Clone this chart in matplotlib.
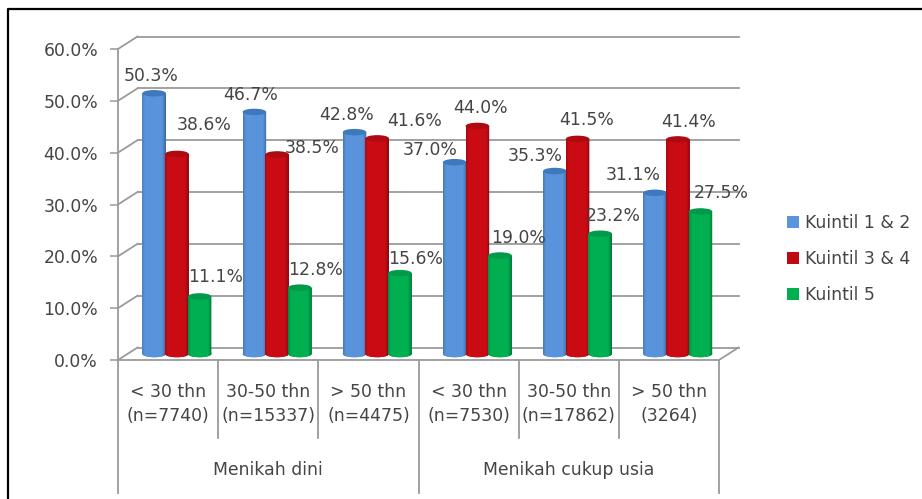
import numpy as np
import matplotlib
matplotlib.use("Agg")
import matplotlib.pyplot as plt
from matplotlib.lines import Line2D
from matplotlib.patches import Ellipse, PathPatch, Rectangle
from matplotlib.path import Path
from matplotlib.transforms import Affine2D, ScaledTranslation
from matplotlib.colors import LinearSegmentedColormap

# Survey shares by marriage age group and welfare quintile
age_labels = ["< 30 thn\n(n=7740)", "30-50 thn\n(n=15337)", "> 50 thn\n(n=4475)",
              "< 30 thn\n(n=7530)", "30-50 thn\n(n=17862)", "> 50 thn\n(3264)"]
group_labels = ["Menikah dini", "Menikah cukup usia"]
series_names = ["Kuintil 1 & 2", "Kuintil 3 & 4", "Kuintil 5"]
kuintil_12 = [50.3, 46.7, 42.8, 37.0, 35.3, 31.1]
kuintil_34 = [38.6, 38.5, 41.6, 44.0, 41.5, 41.4]
kuintil_5 = [11.1, 12.8, 15.6, 19.0, 23.2, 27.5]
y_ticks = [0, 10, 20, 30, 40, 50, 60]

W, H = 922, 499
LEFT, RIGHT, Y0, Y60 = 118.0, 719.0, 360.0, 49.0
BACK_DX, BACK_DY = 19.5, 12.5
MID_DX, MID_DY = 8.8, 6.0
BAR_PITCH_PX = 22.7
BAR_PX = 23.6
ELL_PX = 6.5
TEXT = "#454545"
GRID = "#9A9A9A"
FS = 12.4

# Label offsets from the top of each cylinder, in pixels (dx, dy upward)
offsets_12 = [(-3.5, 17), (-3.5, 17), (-7.5, 17), (-24.5, 12), (-19.5, 15), (-21.5, 18)]
offsets_34 = [(27, 29), (35, 6.6), (37, 17.5), (3, 18), (9, 19), (11, 17.5)]
offsets_5 = [(16.5, 19.5), (16, 17.7), (16, 14), (18, 17.6), (13, 18), (20.5, 18.5)]

# (edge, highlight, far edge, cap colour)
shades = [("#4C7CB8", "#5A94DC", "#3F6CA6", "#4078BE"),
          ("#A80A12", "#CC0C14", "#8A0A10", "#AE0A12"),
          ("#009044", "#00B050", "#007C3A", "#009A4A")]

fig = plt.figure(figsize=(W / 100, H / 100), dpi=100, facecolor="white")
ax = fig.add_axes([LEFT / W, 1 - Y0 / H, (RIGHT - LEFT) / W, (Y0 - Y60) / H])
ax.set_xlim(0, 6)
ax.set_ylim(0, 60)
ax.patch.set_alpha(0)

px = Affine2D().scale(1 / W, -1 / H).translate(0, 1) + fig.transFigure
back = ax.transData + ScaledTranslation(BACK_DX / 100, BACK_DY / 100, fig.dpi_scale_trans)
mid = ax.transData + ScaledTranslation(MID_DX / 100, MID_DY / 100, fig.dpi_scale_trans)

unit_x = 6 / (RIGHT - LEFT)
unit_y = 60 / (Y0 - Y60)
bar_w = BAR_PX * unit_x
bar_pitch = BAR_PITCH_PX * unit_x
ell_h = ELL_PX * unit_y

# Back wall gridlines and the short receding segments at the axis
for t in y_ticks:
    ax.plot([0, 6], [t, t], color=GRID, lw=1.3, transform=back, clip_on=False, zorder=1)
    fig.add_artist(Line2D([LEFT, LEFT + BACK_DX],
                          [Y0 - t / unit_y, Y0 - t / unit_y - BACK_DY],
                          color=GRID, lw=1.3, transform=px, zorder=1))
fig.add_artist(Line2D([RIGHT, RIGHT + BACK_DX], [Y0, Y0 - BACK_DY], color=GRID, lw=1.3, transform=px))

ax.set_yticks(y_ticks)
ax.set_yticklabels([f"{t:.1f}%" for t in y_ticks], fontsize=FS, color=TEXT)
ax.tick_params(axis="y", length=5.8, width=1.1, color=GRID, pad=8.6)
ax.set_xticks([])
for name, sp in ax.spines.items():
    sp.set_visible(name in ("left", "bottom"))
    sp.set_color(GRID)
    sp.set_linewidth(1.3)

# Multi-level category axis below the floor
for i in range(7):
    bottom = 493 if i % 3 == 0 else 438
    x = LEFT + i * (RIGHT - LEFT) / 6
    fig.add_artist(Line2D([x, x], [Y0, bottom], color=GRID, lw=1.3, transform=px))
for i, lab in enumerate(age_labels):
    first, second = lab.split("\n")
    x = LEFT + (i + 0.5) * (RIGHT - LEFT) / 6
    fig.text(x, 392, first, transform=px, ha="center", va="center", fontsize=FS, color=TEXT)
    fig.text(x, 416, second, transform=px, ha="center", va="center", fontsize=FS, color=TEXT)
for i, lab in enumerate(group_labels):
    x = LEFT + (i + 0.5) * (RIGHT - LEFT) / 2
    fig.text(x, 470, lab, transform=px, ha="center", va="center", fontsize=FS, color=TEXT)

# Cylinders: a bar, a shaded body clipped to a round base, and a flat cap
series = [kuintil_12, kuintil_34, kuintil_5]
offsets = [offsets_12, offsets_34, offsets_5]
positions = np.arange(6) + 0.5
ramp = np.array([0.0, 0.3] + [0.5] * 14 + [0.6, 0.8, 1.0])[None, :]
for s, values in enumerate(series):
    edge, high, far, cap = shades[s]
    cmap = LinearSegmentedColormap.from_list("cyl", [edge, high, far], N=64)
    xs = positions + (s - 1) * bar_pitch
    bars = ax.bar(xs, values, bar_w, color=high, transform=mid, zorder=3 + s, clip_on=False)
    for bar, v, x in zip(bars, values, xs):
        x0, x1 = x - bar_w / 2, x + bar_w / 2
        outline = Path.make_compound_path(
            Path([(x0, 0), (x1, 0), (x1, v), (x0, v), (x0, 0)],
                 [Path.MOVETO, Path.LINETO, Path.LINETO, Path.LINETO, Path.CLOSEPOLY]),
            Path.unit_circle().transformed(
                Affine2D().scale(bar_w / 2, ell_h / 2).translate(x, 0)),
        )
        clip = PathPatch(outline, transform=mid, fc="none", ec="none")
        body = ax.imshow(ramp, cmap=cmap, vmin=0, vmax=1, aspect="auto", interpolation="bilinear",
                         extent=(x0, x1, -ell_h, v), transform=mid, zorder=3 + s)
        body.set_clip_path(clip)
        ax.add_patch(Ellipse((x, 0), bar_w, ell_h, fc=high, ec="none", transform=mid,
                             zorder=2.9 + s, clip_on=False))
        ax.add_patch(Ellipse((x, v), bar_w, ell_h, fc=cap, ec="none", transform=mid,
                             zorder=3.1 + s, clip_on=False))

ax.set_xlim(0, 6)
ax.set_ylim(0, 60)

# Value labels
for s, values in enumerate(series):
    for i, v in enumerate(values):
        dx, dy = offsets[s][i]
        ax.annotate(f"{v:.1f}%", (positions[i] + (s - 1) * bar_pitch, v), xycoords=mid,
                    xytext=(dx * 0.72, dy * 0.72), textcoords="offset points",
                    ha="center", va="center", fontsize=FS, color=TEXT,
                    annotation_clip=False, zorder=10)

# Legend
handles = [Rectangle((0, 0), 1, 1, fc=c) for c in ("#5A94DC", "#C00A12", "#00B050")]
fig.legend(handles, series_names, loc="upper left", bbox_to_anchor=(782 / W, 1 - 208.5 / H),
           frameon=False, fontsize=FS, labelcolor=TEXT, handlelength=0.7, handleheight=0.7,
           handletextpad=0.35, labelspacing=1.05, borderpad=0.3, borderaxespad=0)

# Outer frame of the slide object, running off the right and lower edges
fig.add_artist(Line2D([8, 8, W + 3], [H + 3, 9, 9], color="black", lw=1.6, transform=px))

fig.savefig("out.png", dpi=100)
